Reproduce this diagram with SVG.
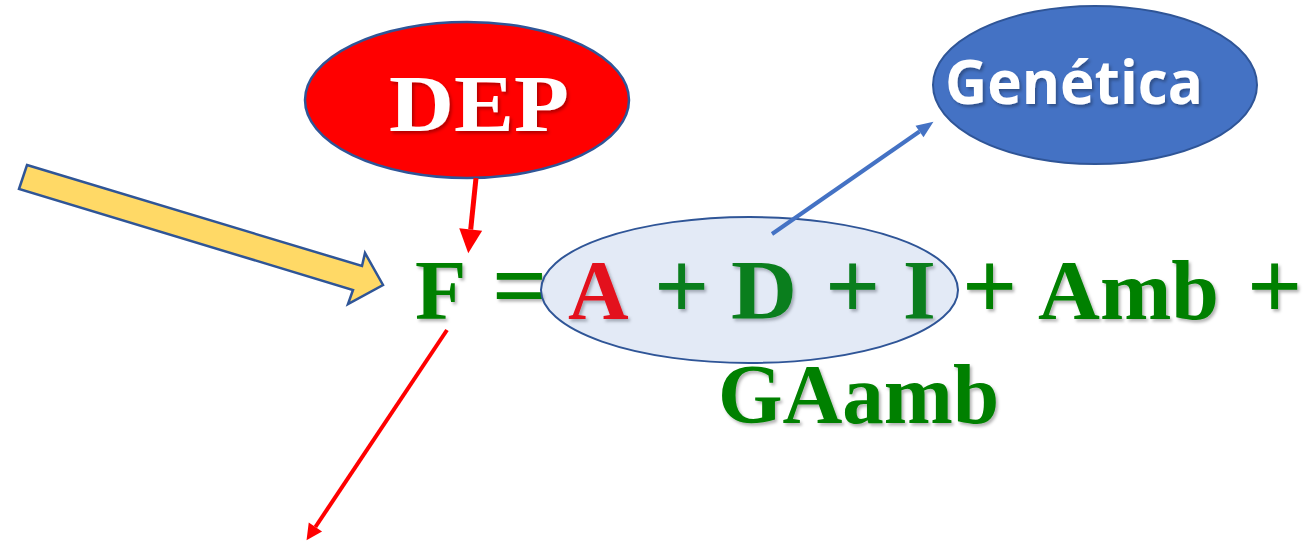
<svg xmlns="http://www.w3.org/2000/svg" width="1304" height="543" viewBox="0 0 1304 543">
<style>
.eq{font-family:"Liberation Serif","Times New Roman",serif;font-weight:bold;font-size:84px;fill:#008000}
.op{font-size:97px}
.red{fill:#FF0000}
.node-stroke{stroke:#2F5597;stroke-width:2.5}
</style>
<defs>
<filter id="sh" x="-10%" y="-10%" width="130%" height="140%">
<feDropShadow dx="2" dy="2.5" stdDeviation="1.5" flood-color="#000" flood-opacity="0.3"/>
</filter>
<marker id="hRedBig" markerUnits="userSpaceOnUse" orient="auto" refX="0" refY="0" markerWidth="30" markerHeight="30" overflow="visible">
<path d="M0,-11.5 L24,0 L0,11.5 z" fill="#FF0000"/>
</marker>
<marker id="hRed" markerUnits="userSpaceOnUse" orient="auto" refX="0" refY="0" markerWidth="30" markerHeight="30" overflow="visible">
<path d="M0,-8 L16,0 L0,8 z" fill="#FF0000"/>
</marker>
<marker id="hBlue" markerUnits="userSpaceOnUse" orient="auto" refX="0" refY="0" markerWidth="30" markerHeight="30" overflow="visible">
<path d="M0,-7 L17,0 L0,7 z" fill="#4472C4"/>
</marker>
</defs>
<rect width="1304" height="543" fill="#FFFFFF"/>

<g id="dep">
<ellipse cx="467" cy="100" rx="162" ry="78" fill="#FF0000" class="node-stroke"/>
<text x="389" y="131" textLength="180" lengthAdjust="spacingAndGlyphs" font-family="'Liberation Serif','Times New Roman',serif" font-weight="bold" font-size="80" fill="#FFFFFF" filter="url(#sh)">DEP</text>
</g>

<g id="genetica">
<ellipse cx="1095" cy="85" rx="162" ry="79" fill="#4472C4" stroke="#2F5597" stroke-width="2"/>
<text x="945" y="104" textLength="258" lengthAdjust="spacingAndGlyphs" font-family="'Open Sans','Liberation Sans',sans-serif" font-weight="bold" font-size="61" fill="#FFFFFF" filter="url(#sh)">Genética</text>
</g>

<g id="input-arrow">
<polygon points="27,165 362,266 365,253 383,285 348,304 353,290 19,189" fill="#FFD966" stroke="#2F5597" stroke-width="2.5" stroke-linejoin="miter"/>
</g>

<g id="equation" class="eq" filter="url(#sh)">
<text y="319"><tspan x="415">F</tspan><tspan x="492" class="op" dy="-1">=</tspan><tspan x="568" dy="1" class="red">A</tspan><tspan x="654" class="op">+</tspan><tspan x="731" textLength="66" lengthAdjust="spacingAndGlyphs">D</tspan><tspan x="825" class="op">+</tspan><tspan x="903">I</tspan><tspan x="962" class="op">+</tspan><tspan x="1038" textLength="181" lengthAdjust="spacingAndGlyphs">Amb</tspan><tspan x="1247" class="op">+</tspan></text>
<text x="718" y="423" textLength="281" lengthAdjust="spacingAndGlyphs">GAamb</text>
</g>

<g id="genetic-group">
<ellipse cx="749.5" cy="290" rx="208.5" ry="73" fill="#4472C4" fill-opacity="0.15" stroke="#2F5597" stroke-width="2"/>
</g>

<g id="connectors" fill="none">
<line x1="476" y1="178" x2="470.7" y2="229.5" stroke="#FF0000" stroke-width="5" marker-end="url(#hRedBig)"/>
<line x1="447" y1="330" x2="315.4" y2="527" stroke="#FF0000" stroke-width="4" marker-end="url(#hRed)"/>
<line x1="772" y1="234" x2="919.5" y2="131.5" stroke="#4472C4" stroke-width="4" marker-end="url(#hBlue)"/>
</g>
</svg>
